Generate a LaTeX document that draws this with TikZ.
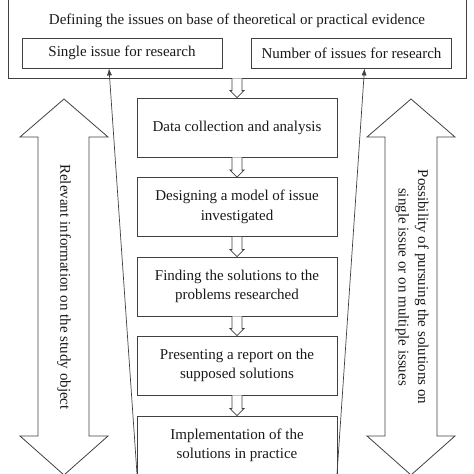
\documentclass[tikz,border=0pt]{standalone}
\usepackage{fontspec}
\setmainfont{Liberation Serif}
\usetikzlibrary{arrows.meta,calc}
\newcommand{\hollowdown}[2]{%
  \draw[fill=white] ($(#1.south)+(-5,0)$) -- ($(#2.north)+(-5,-7)$) -- ($(#2.north)+(-7,-7)$)
    -- (#2.north) -- ($(#2.north)+(7,-7)$) -- ($(#2.north)+(5,-7)$) -- ($(#1.south)+(5,0)$);}
\begin{document}
\begin{tikzpicture}[x=1pt, y=-1pt, line width=.8pt, draw=black!75,
  txt/.style={font=\fontsize{15}{19.5}\selectfont, text=black!90},
  box/.style={txt, draw, minimum width=200pt, minimum height=59pt, align=center, inner sep=2pt},
  thin/.style={line width=.7pt, -{Latex[length=7pt,width=5pt]}}]
\useasboundingbox (0,0) rectangle (474,474);
	% top frame
	\node[draw, minimum width=458pt, minimum height=100pt] (frame) at (237,28) {};
	\node[txt]                    (define) at (237,21)   {Defining the issues on base of theoretical or practical evidence};
	\node[box, minimum height=30pt] (single) at (122,53)   {Single issue for research};
	\node[box, minimum height=30pt] (number) at (351.5,53) {Number of issues for research};
	% steps
	\node[box] (data)   at (237,127.5) {Data collection and analysis};
	\node[box] (model)  at (237,207)   {Designing a model of issue\\investigated};
	\node[box] (solve)  at (237,286.5) {Finding the solutions to the\\problems researched};
	\node[box] (report) at (237,365.5) {Presenting a report on the\\supposed solutions};
	\node[box] (apply)  at (237,445.5) {Implementation of the\\solutions in practice};
	\hollowdown{frame}{data}
	\hollowdown{data}{model}
	\hollowdown{model}{solve}
	\hollowdown{solve}{report}
	\hollowdown{report}{apply}
	% funnel lines
	\coordinate (lfoot) at (137,474);
	\coordinate (rfoot) at (337,474);
	\draw[thin] (lfoot) -- ([xshift=-13pt]single.south);
	\draw[thin] (rfoot) -- ([xshift=13pt]number.south);
	% side arrows
	\draw (64,99) -- (108,137) -- (89,137) -- (89,436) -- (108,436) -- (64,475)
	      -- (20,436) -- (38,436) -- (38,137) -- (20,137) -- cycle;
	\draw (411,99) -- (455,137) -- (437,137) -- (437,436) -- (455,436) -- (411,475)
	      -- (367,436) -- (385,436) -- (385,137) -- (367,137) -- cycle;
	\node[txt, rotate=-90] (relevant) at (64,287) {Relevant information on the study object};
	\node[txt, rotate=-90, align=center] (pursue) at (412,287) {Possibility of pursuing the solutions on\\single issue or on multiple issues};
\end{tikzpicture}
\end{document}
